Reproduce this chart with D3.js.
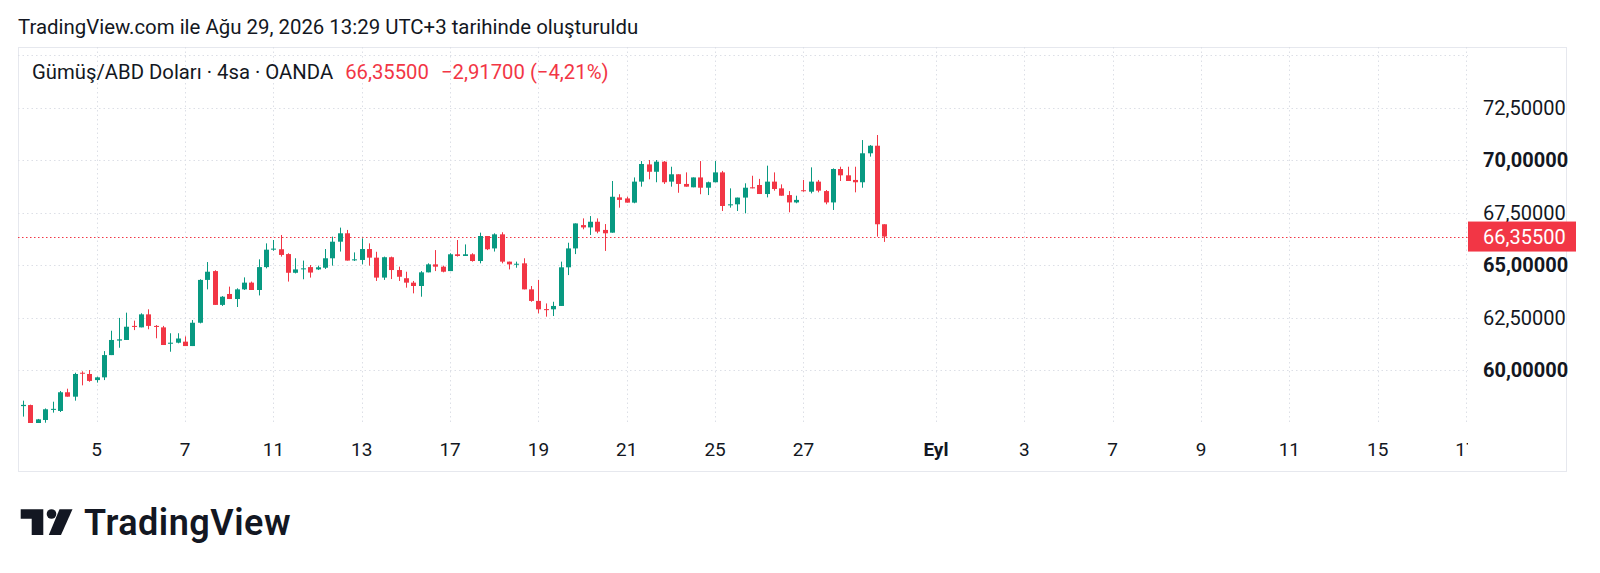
<!DOCTYPE html>
<html>
<head>
<meta charset="utf-8">
<script src="https://cdn.jsdelivr.net/npm/d3@7"></script>
<style>
  html, body { margin: 0; padding: 0; background: #ffffff; }
  svg { display: block; }
  text { font-family: Roboto, "Noto Sans", sans-serif; }
</style>
</head>
<body>
<svg id="chart" width="1600" height="573"></svg>
<script>
// ---- Data (4h candles, Aug 3 08:00 → Aug 28 20:00) ----
const opens = [58.28,58.33,57.43,57.62,58.10,58.05,58.94,58.73,59.87,59.81,59.52,59.65,60.71,61.40,61.43,62.10,62.03,62.65,62.10,62.03,
61.25,61.30,61.35,61.14,62.25,64.29,64.71,63.10,63.62,63.38,63.84,64.16,63.81,64.90,65.73,65.75,65.52,64.63,64.81,64.90,
64.79,64.87,65.32,66.11,66.51,65.22,65.24,65.76,65.35,64.40,65.37,64.76,64.37,64.16,64.00,64.65,65.03,64.92,64.71,65.51,
65.43,65.51,65.19,66.38,65.79,66.46,65.16,65.03,65.08,63.84,63.29,62.90,62.89,63.05,64.89,65.79,66.90,66.79,67.06,66.67,
66.54,68.22,68.17,67.97,68.97,69.79,69.44,69.92,68.97,69.32,68.86,68.70,69.17,68.68,68.94,69.41,67.84,67.89,68.21,68.70,
68.81,68.38,68.97,68.65,68.33,67.98,68.56,68.49,68.97,68.52,67.98,69.57,69.27,69.05,68.94,70.32,70.68,66.94];
const highs = [58.54,58.35,57.67,58.17,58.49,59.00,59.11,59.87,59.94,60.00,59.68,60.90,61.87,62.48,62.73,62.35,62.70,62.89,62.14,62.10,
61.75,61.75,61.60,62.38,64.32,65.14,64.75,63.52,63.97,63.89,64.41,64.21,65.27,66.03,66.19,66.43,65.56,65.32,65.21,65.00,
64.97,65.76,66.35,66.78,66.67,65.60,66.27,66.03,65.63,65.40,65.40,64.92,64.68,64.24,64.71,65.08,65.71,64.97,65.56,66.19,
65.98,65.56,66.54,66.38,66.51,66.56,65.16,65.16,65.32,64.00,64.29,63.17,63.25,65.16,66.06,66.98,67.22,67.33,67.22,66.95,
69.00,68.37,68.25,69.17,69.95,70.00,70.00,69.95,69.68,69.32,69.41,69.17,69.95,68.97,69.95,69.48,68.65,68.21,68.89,69.25,
69.10,69.73,69.41,68.84,68.52,68.30,69.05,69.65,69.05,68.57,69.60,69.68,69.68,69.68,70.95,70.71,71.19,66.94];
const lows = [57.78,57.40,57.40,57.49,57.97,58.00,58.73,58.54,59.27,59.44,59.40,59.52,60.71,61.06,61.43,61.90,62.03,61.94,61.51,61.19,
60.87,61.27,61.14,61.14,62.22,63.84,63.10,63.05,63.38,63.00,63.81,63.81,63.55,64.84,65.68,65.40,64.21,64.60,64.32,64.40,
64.76,64.81,64.97,65.64,65.21,65.19,65.03,64.97,64.24,64.29,64.33,64.24,63.92,63.65,63.49,64.65,64.71,64.65,64.71,65.40,
65.43,65.16,65.08,65.71,65.64,65.08,64.79,64.87,63.84,63.25,62.70,62.54,62.57,63.05,64.52,65.52,66.70,66.43,66.51,65.67,
66.54,67.73,67.97,67.94,68.73,69.08,68.94,68.86,68.73,68.44,68.73,68.70,68.37,68.33,68.94,67.57,67.73,67.57,67.46,68.65,
68.38,68.22,68.54,68.30,67.51,67.94,68.49,68.41,68.46,67.89,67.62,69.00,69.00,68.46,68.68,70.16,66.35,66.10];
const closes = [58.34,57.43,57.65,58.13,58.15,58.94,58.73,59.81,59.83,59.48,59.65,60.71,61.43,61.46,62.06,62.05,62.65,62.10,62.05,61.19,
61.30,61.50,61.14,62.25,64.29,64.68,63.10,63.49,63.38,63.84,64.16,63.81,64.90,65.73,65.78,65.48,64.63,64.79,64.84,64.64,
64.89,65.32,66.11,66.51,65.21,65.27,65.76,65.35,64.40,65.37,64.76,64.44,64.16,64.00,64.65,65.03,64.92,64.68,65.51,65.43,
65.51,65.19,66.38,65.75,66.46,65.16,65.03,65.06,63.84,63.29,62.89,62.85,63.05,64.89,65.79,66.98,66.79,67.06,66.59,66.51,
68.25,68.10,67.97,68.97,69.81,69.44,69.92,68.94,69.32,68.86,68.73,69.17,68.68,68.94,69.41,67.81,67.89,68.21,68.68,68.65,
68.38,68.97,68.62,68.30,67.98,68.10,68.52,68.97,68.54,67.98,69.57,69.27,69.00,68.94,70.32,70.68,66.94,66.355];

// time axis: tick labels and their candle-slot positions (weekends skipped)
const timeTickLabels = ["5","7","11","13","17","19","21","25","27","Eyl","3","7","9","11","15","17"];
const timeTickSlots  = [10,22,34,46,58,70,82,94,106,124,136,148,160,172,184,196];
const timeTickBold   = [false,false,false,false,false,false,false,false,false,true,false,false,false,false,false,false];

const priceTicks = [60, 62.5, 65, 67.5, 70, 72.5];
const priceGrid  = [57.5, 60, 62.5, 65, 67.5, 70, 72.5, 75];
const lastPrice = 66.355;

const titleText = "TradingView.com ile Ağu 29, 2026 13:29 UTC+3 tarihinde oluşturuldu";
const symbolText = "Gümüş/ABD Doları · 4sa · OANDA";
const priceText = "66,35500";
const changeText = "−2,91700 (−4,21%)";

// ---- Layout ----
const UP = "#089981", DOWN = "#F23645";
const frame = {x: 18, y: 47, r: 1566, b: 471};
const plot = {l: 18, r: 1468, t: 47, b: 423};

const svg = d3.select("#chart");

const x = d3.scaleLinear().domain([0, 196]).range([23.1, 1466]);
const y = d3.scaleLinear().domain([57.5, 75]).range([422.5, 55]);

const fmt = v => d3.format(".5f")(v).replace(".", ",");

// frame
svg.append("rect").attr("x", frame.x + 0.5).attr("y", frame.y + 0.5)
  .attr("width", frame.r - frame.x).attr("height", frame.b - frame.y)
  .attr("fill", "none").attr("stroke", "#e6e8ee").attr("stroke-width", 1);

// clip
const defs = svg.append("defs");
defs.append("clipPath").attr("id", "plotClip").append("rect")
  .attr("x", plot.l).attr("y", plot.t).attr("width", plot.r - plot.l).attr("height", plot.b - plot.t);
defs.append("clipPath").attr("id", "timeClip").append("rect")
  .attr("x", plot.l).attr("y", plot.b).attr("width", plot.r - plot.l).attr("height", frame.b - plot.b);

const grid = svg.append("g").attr("clip-path", "url(#plotClip)");
grid.selectAll("line.h").data(priceGrid).join("line")
  .attr("x1", plot.l).attr("x2", plot.r)
  .attr("y1", d => Math.round(y(d)) + 0.5).attr("y2", d => Math.round(y(d)) + 0.5)
  .attr("stroke", "#dcdfe6").attr("stroke-dasharray", "1.5,3");
grid.selectAll("line.v").data(timeTickSlots).join("line")
  .attr("x1", d => Math.round(x(d)) + 0.5).attr("x2", d => Math.round(x(d)) + 0.5)
  .attr("y1", plot.t).attr("y2", plot.b)
  .attr("stroke", "#dcdfe6").attr("stroke-dasharray", "1.5,3");

// header texts
svg.append("text").attr("x", 18).attr("y", 34)
  .attr("font-size", 20.4).attr("fill", "#131722").text(titleText);

const legend = svg.append("text").attr("x", 32).attr("y", 79).attr("font-size", 20.3);
legend.append("tspan").attr("fill", "#131722").text(symbolText);
legend.append("tspan").attr("fill", DOWN).attr("dx", 12).text(priceText);
legend.append("tspan").attr("fill", DOWN).attr("dx", 12).text(changeText);

// price line
svg.append("line").attr("x1", plot.l).attr("x2", plot.r)
  .attr("y1", Math.round(y(lastPrice)) + 0.5).attr("y2", Math.round(y(lastPrice)) + 0.5)
  .attr("stroke", DOWN).attr("stroke-dasharray", "1.5,2.5").attr("stroke-width", 1);

// candles
const idx = d3.range(closes.length);
const cg = svg.append("g").attr("clip-path", "url(#plotClip)");
const bodyW = 5;
cg.selectAll("line.wick").data(idx).join("line")
  .attr("x1", i => Math.round(x(i)) + 0.5).attr("x2", i => Math.round(x(i)) + 0.5)
  .attr("y1", i => y(highs[i])).attr("y2", i => y(lows[i]))
  .attr("stroke", i => closes[i] >= opens[i] ? UP : DOWN).attr("stroke-width", 1);
cg.selectAll("rect.body").data(idx).join("rect")
  .attr("x", i => Math.round(x(i)) + 0.5 - bodyW / 2)
  .attr("width", bodyW)
  .attr("y", i => y(Math.max(opens[i], closes[i])))
  .attr("height", i => Math.max(1, Math.abs(y(opens[i]) - y(closes[i]))))
  .attr("fill", i => closes[i] >= opens[i] ? UP : DOWN);

// price axis labels
const pa = svg.append("g");
pa.selectAll("text").data(priceTicks).join("text")
  .attr("x", 1483).attr("y", d => y(d)).attr("dy", "0.36em")
  .attr("font-size", 20)
  .attr("font-weight", d => d % 5 === 0 ? 700 : 400)
  .attr("fill", "#131722").text(d => fmt(d));

// last price label
const ly = y(lastPrice);
svg.append("rect").attr("x", 1468).attr("y", ly - 15).attr("width", 108).attr("height", 30)
  .attr("fill", DOWN);
svg.append("text").attr("x", 1483).attr("y", ly).attr("dy", "0.36em")
  .attr("font-size", 20).attr("fill", "#ffffff").text(fmt(lastPrice));

// time axis labels
const ta = svg.append("g").attr("clip-path", "url(#timeClip)");
ta.selectAll("text").data(timeTickSlots).join("text")
  .attr("x", d => x(d)).attr("y", 456).attr("text-anchor", "middle")
  .attr("font-size", 19)
  .attr("font-weight", (d, i) => timeTickBold[i] ? 700 : 400)
  .attr("fill", "#131722").text((d, i) => timeTickLabels[i]);

// logo
const logo = svg.append("g").attr("fill", "#131722");
logo.append("path").attr("d", "M20.7,509.3 H43.3 V535 H31.7 V518.8 H20.7 Z");
logo.append("circle").attr("cx", 51.5).attr("cy", 514).attr("r", 4.8);
logo.append("path").attr("d", "M59.5,509.3 H72.5 L61,535 H48.8 Z");
svg.append("text").attr("x", 84).attr("y", 535)
  .attr("font-family", "Inter, Roboto, sans-serif").attr("font-weight", 600)
  .attr("font-size", 36).attr("letter-spacing", 0.5).attr("fill", "#131722").text("TradingView");
</script>
</body>
</html>
